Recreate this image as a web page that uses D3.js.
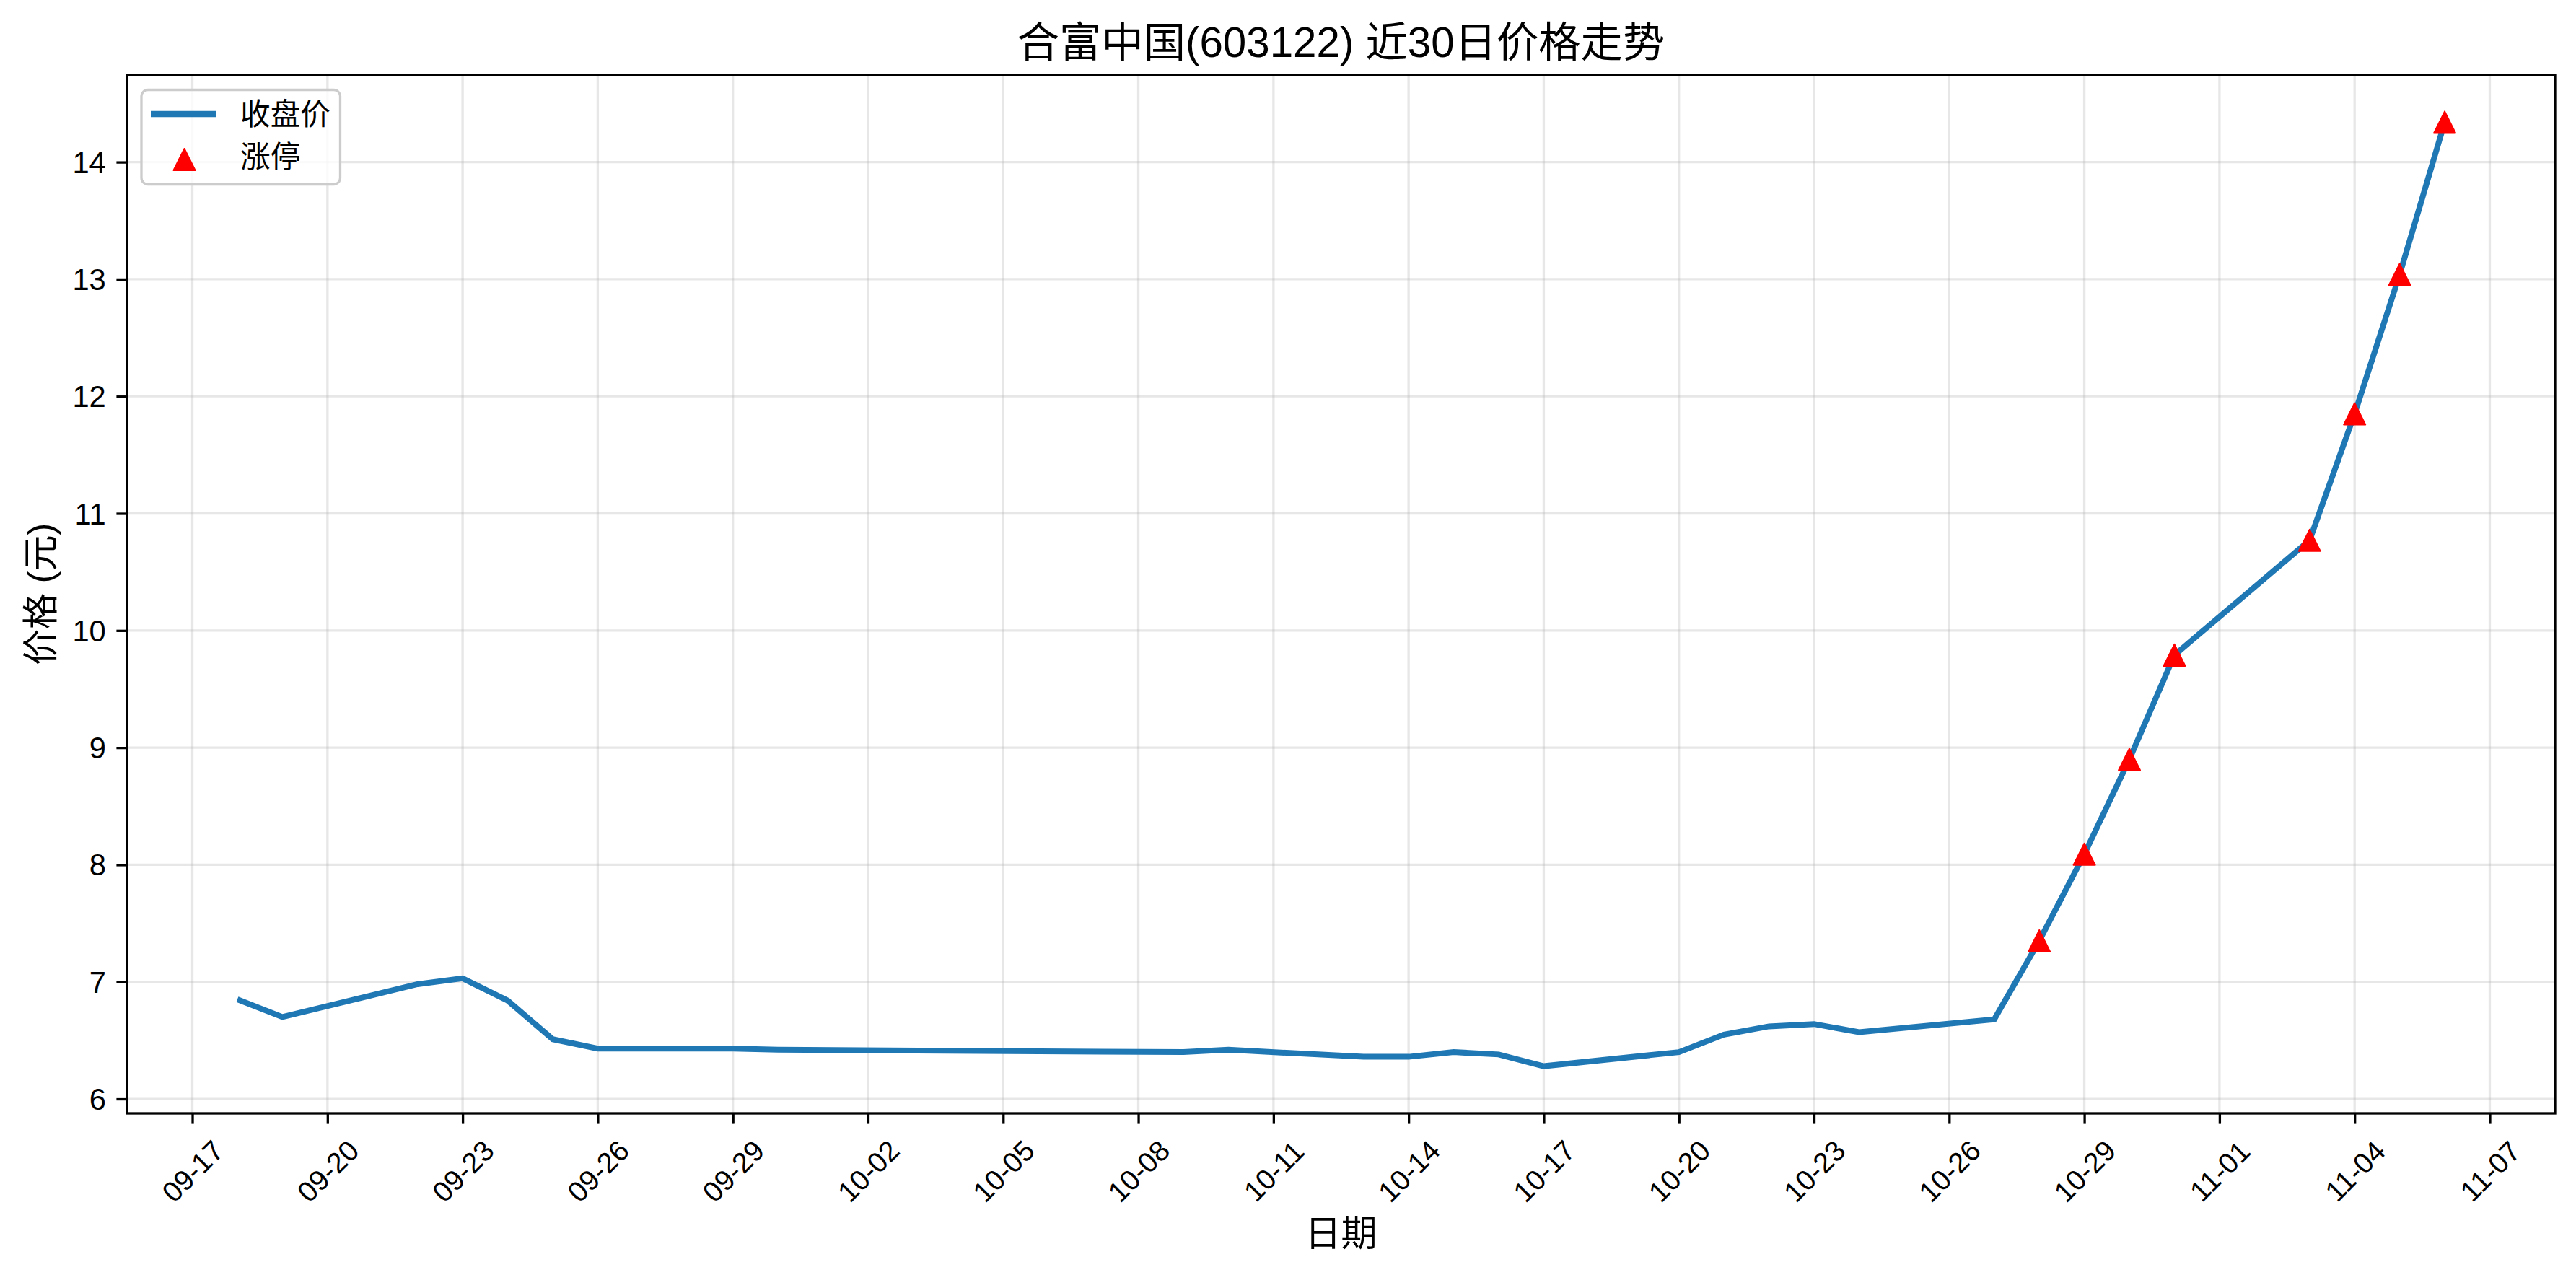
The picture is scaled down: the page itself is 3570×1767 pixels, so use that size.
<!DOCTYPE html>
<html>
<head>
<meta charset="utf-8">
<script src="https://cdn.jsdelivr.net/npm/d3@7"></script>
<style>
  html, body { margin: 0; padding: 0; background: #fff; }
  svg { display: block; }
  text { font-family: "Liberation Sans", "Noto Sans CJK SC", sans-serif; fill: #000; }
</style>
</head>
<body>
<svg id="chart" width="3570" height="1767"></svg>
<script>
// ---- data ----
const titleText = "合富中国(603122) 近30日价格走势";
const xLabel = "日期";
const yLabel = "价格 (元)";
const seriesName = "收盘价";
const markerName = "涨停";

const dates = ["2025-09-18","2025-09-19","2025-09-22","2025-09-23","2025-09-24","2025-09-25","2025-09-26",
  "2025-09-29","2025-09-30","2025-10-09","2025-10-10","2025-10-13","2025-10-14","2025-10-15","2025-10-16",
  "2025-10-17","2025-10-20","2025-10-21","2025-10-22","2025-10-23","2025-10-24","2025-10-27","2025-10-28",
  "2025-10-29","2025-10-30","2025-10-31","2025-11-03","2025-11-04","2025-11-05","2025-11-06"];
const closes = [6.85, 6.70, 6.98, 7.03, 6.84, 6.51, 6.43, 6.43, 6.42, 6.40, 6.42, 6.36, 6.36, 6.40, 6.38,
  6.28, 6.40, 6.55, 6.62, 6.64, 6.57, 6.68, 7.35, 8.09, 8.90, 9.79, 10.77, 11.85, 13.04, 14.34];
const limitUpDates = ["2025-10-28","2025-10-29","2025-10-30","2025-10-31","2025-11-03","2025-11-04","2025-11-05","2025-11-06"];
const xTickDates = ["2025-09-17","2025-09-20","2025-09-23","2025-09-26","2025-09-29","2025-10-02","2025-10-05",
  "2025-10-08","2025-10-11","2025-10-14","2025-10-17","2025-10-20","2025-10-23","2025-10-26","2025-10-29",
  "2025-11-01","2025-11-04","2025-11-07"];
const yTicks = [6, 7, 8, 9, 10, 11, 12, 13, 14];

// ---- layout ----
const W = 3570, H = 1767;
const plot = { left: 176, right: 3541, top: 104, bottom: 1543 };
const parse = d3.utcParse("%Y-%m-%d");
const fmt = d3.utcFormat("%m-%d");

const pts = dates.map((d, i) => ({ date: parse(d), value: closes[i], key: d }));
const limitPts = pts.filter(p => limitUpDates.includes(p.key));

const xExt = d3.extent(pts, p => p.date);
const xPad = (xExt[1] - xExt[0]) * 0.05;
const x = d3.scaleUtc()
  .domain([new Date(+xExt[0] - xPad), new Date(+xExt[1] + xPad)])
  .range([plot.left, plot.right]);

const yExt = d3.extent(pts, p => p.value);
const yPad = (yExt[1] - yExt[0]) * 0.05;
const y = d3.scaleLinear()
  .domain([yExt[0] - yPad, yExt[1] + yPad])
  .range([plot.bottom, plot.top]);

const svg = d3.select("#chart");
svg.append("rect").attr("width", W).attr("height", H).attr("fill", "#fff");

// grid
const grid = svg.append("g");
grid.selectAll("line.vg").data(xTickDates.map(parse)).enter().append("line")
  .attr("x1", d => x(d)).attr("x2", d => x(d))
  .attr("y1", plot.top).attr("y2", plot.bottom)
  .attr("stroke", "#b0b0b0").attr("stroke-opacity", 0.3).attr("stroke-width", 3.3);
grid.selectAll("line.hg").data(yTicks).enter().append("line")
  .attr("x1", plot.left).attr("x2", plot.right)
  .attr("y1", d => y(d)).attr("y2", d => y(d))
  .attr("stroke", "#b0b0b0").attr("stroke-opacity", 0.3).attr("stroke-width", 3.3);

// line
const line = d3.line().x(p => x(p.date)).y(p => y(p.value));
svg.append("path").datum(pts)
  .attr("d", line)
  .attr("fill", "none")
  .attr("stroke", "#1f77b4")
  .attr("stroke-width", 8)
  .attr("stroke-linejoin", "miter")
  .attr("stroke-linecap", "butt");

// markers
const tri = s => `M0,${-s}L${s},${s}L${-s},${s}Z`;
svg.append("g").selectAll("path").data(limitPts).enter().append("path")
  .attr("d", tri(15))
  .attr("transform", p => `translate(${x(p.date)},${y(p.value)})`)
  .attr("fill", "#ff0000").attr("stroke", "#ff0000").attr("stroke-width", 2)
  .attr("stroke-linejoin", "round");

// axes
const xAxis = d3.axisBottom(x).tickValues(xTickDates.map(parse)).tickFormat(fmt)
  .tickSize(14.6).tickPadding(0);
const gx = svg.append("g").attr("transform", `translate(0,${plot.bottom})`).call(xAxis);
gx.select(".domain").remove();
gx.selectAll(".tick line").attr("stroke", "#000").attr("stroke-width", 3.3);
gx.selectAll(".tick text")
  .attr("font-size", 39.5)
  .attr("text-anchor", "middle")
  .attr("dominant-baseline", "central")
  .attr("y", 0).attr("dy", null)
  .attr("transform", "translate(0,80) rotate(-45)");

const yAxis = d3.axisLeft(y).tickValues(yTicks).tickFormat(d3.format("d"))
  .tickSize(14.6).tickPadding(14.6);
const gy = svg.append("g").attr("transform", `translate(${plot.left},0)`).call(yAxis);
gy.select(".domain").remove();
gy.selectAll(".tick line").attr("stroke", "#000").attr("stroke-width", 3.3);
gy.selectAll(".tick text").attr("font-size", 41.7).attr("dy", null)
  .attr("dominant-baseline", "central");

// spines
svg.append("rect")
  .attr("x", plot.left).attr("y", plot.top)
  .attr("width", plot.right - plot.left).attr("height", plot.bottom - plot.top)
  .attr("fill", "none").attr("stroke", "#000").attr("stroke-width", 3.3);

// title & labels
svg.append("text").attr("x", (plot.left + plot.right) / 2).attr("y", 58)
  .attr("text-anchor", "middle").attr("dominant-baseline", "central")
  .attr("font-size", 58.3).text(titleText);
svg.append("text").attr("x", (plot.left + plot.right) / 2).attr("y", 1710)
  .attr("text-anchor", "middle").attr("dominant-baseline", "central")
  .attr("font-size", 50).text(xLabel);
svg.append("text")
  .attr("transform", `translate(57,${(plot.top + plot.bottom) / 2}) rotate(-90)`)
  .attr("text-anchor", "middle").attr("dominant-baseline", "central")
  .attr("font-size", 50).text(yLabel);

// legend
const lg = svg.append("g");
lg.append("rect").attr("x", 196).attr("y", 124.5).attr("width", 275.5).attr("height", 131)
  .attr("rx", 9).attr("fill", "#fff").attr("fill-opacity", 0.8)
  .attr("stroke", "#cccccc").attr("stroke-width", 3.3);
lg.append("line").attr("x1", 209).attr("x2", 300).attr("y1", 158).attr("y2", 158)
  .attr("stroke", "#1f77b4").attr("stroke-width", 8.3);
lg.append("path").attr("d", tri(15)).attr("transform", "translate(255.5,221)")
  .attr("fill", "#ff0000").attr("stroke", "#ff0000").attr("stroke-width", 2).attr("stroke-linejoin", "round");
lg.append("text").attr("x", 333).attr("y", 158).attr("dominant-baseline", "central")
  .attr("font-size", 41.7).text(seriesName);
lg.append("text").attr("x", 333).attr("y", 217).attr("dominant-baseline", "central")
  .attr("font-size", 41.7).text(markerName);
</script>
</body>
</html>
